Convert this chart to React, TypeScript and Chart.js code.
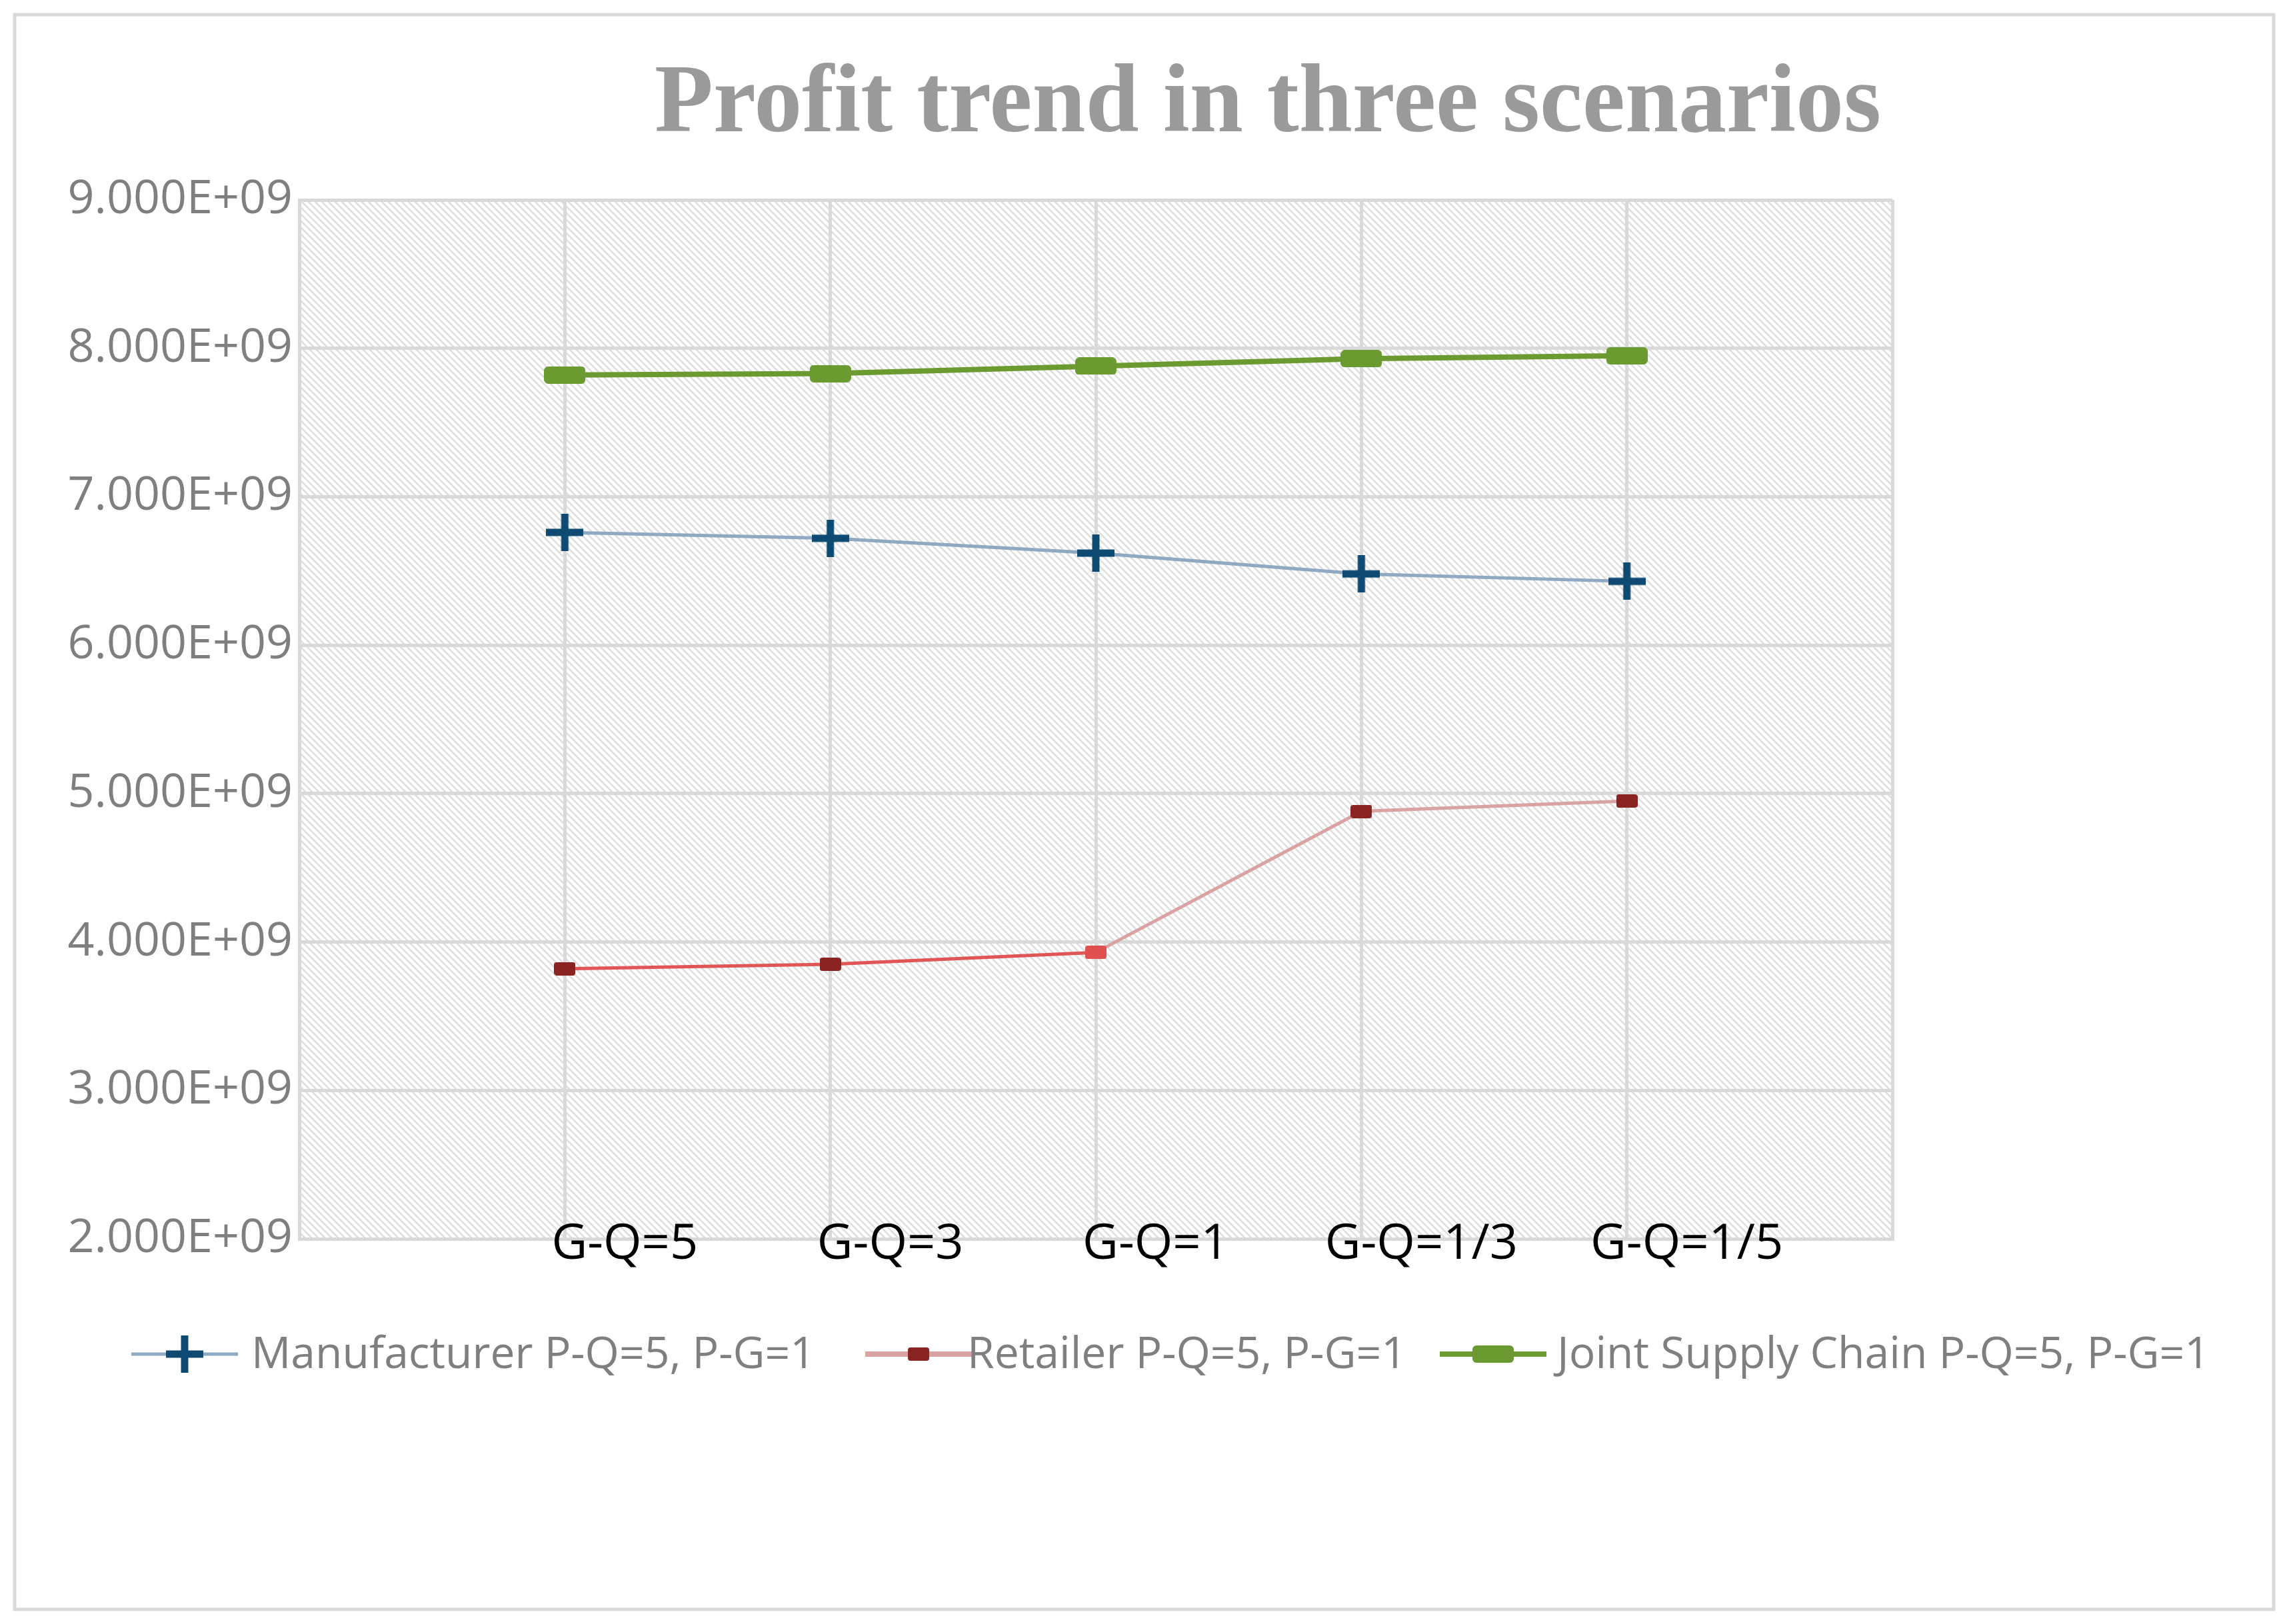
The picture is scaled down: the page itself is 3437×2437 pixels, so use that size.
import React, { useEffect, useRef } from "react";
import { Chart, registerables } from "chart.js";
Chart.register(...registerables);

const categories = ["G-Q=5", "G-Q=3", "G-Q=1", "G-Q=1/3", "G-Q=1/5"];
const manufacturer = [6.76e9, 6.72e9, 6.62e9, 6.48e9, 6.43e9];
const retailer = [3.82e9, 3.85e9, 3.93e9, 4.88e9, 4.95e9];
const joint = [7.82e9, 7.83e9, 7.88e9, 7.93e9, 7.95e9];
const seriesNames = ["Manufacturer P-Q=5, P-G=1", "Retailer P-Q=5, P-G=1", "Joint Supply Chain P-Q=5, P-G=1"];

const W = 3437, H = 2437;
const FONT = "'Open Sans', 'Noto Sans', sans-serif";

function rectImg(w: number, h: number, color: string, r: number) {
  const c = document.createElement("canvas");
  c.width = w; c.height = h;
  const x = c.getContext("2d")!;
  x.fillStyle = color;
  x.beginPath();
  (x as any).roundRect(0, 0, w, h, r);
  x.fill();
  return c;
}
function crossImg(size: number, color: string, lw: number) {
  const c = document.createElement("canvas");
  c.width = size; c.height = size;
  const x = c.getContext("2d")!;
  x.fillStyle = color;
  x.fillRect((size - lw) / 2, 0, lw, size);
  x.fillRect(0, (size - lw) / 2, size, lw);
  return c;
}
function hatch() {
  const c = document.createElement("canvas");
  c.width = 10; c.height = 10;
  const x = c.getContext("2d")!;
  x.fillStyle = "#ffffff";
  x.fillRect(0, 0, 10, 10);
  x.strokeStyle = "#dedede";
  x.lineWidth = 2.5;
  x.beginPath();
  x.moveTo(0, 0); x.lineTo(10, 10);
  x.moveTo(-5, 5); x.lineTo(5, 15);
  x.moveTo(5, -5); x.lineTo(15, 5);
  x.stroke();
  return c;
}
function fmt(v: number) {
  const e = Math.floor(Math.log10(v));
  const m = v / Math.pow(10, e);
  return m.toFixed(3) + "E+" + String(e).padStart(2, "0");
}

export default function App() {
  const ref = useRef<HTMLCanvasElement>(null);
  useEffect(() => {
    const mCross = crossImg(56, "#0E4A72", 11);
    const rRect = rectImg(32, 20, "#8B2323", 4);
    const rRectBright = rectImg(32, 20, "#E05050", 4);
    const jRect = rectImg(62, 26, "#6A9A30", 6);
    const pat = ref.current!.getContext("2d")!.createPattern(hatch(), "repeat")!;
    const legendLine = [
      { color: "#8EA9C1", lw: 5, img: mCross },
      { color: "#D9A3A3", lw: 8, img: rRect },
      { color: "#6A9A30", lw: 8, img: jRect },
    ];
    const legendX = [197, 1298, 2160];
    const legendTextX = [377, 1451, 2336];

    const plugin = {
      id: "deco",
      beforeDraw(chart: any) {
        const ctx = chart.ctx;
        const a = chart.chartArea;
        ctx.save();
        ctx.fillStyle = "#fff";
        ctx.fillRect(0, 0, W, H);
        ctx.strokeStyle = "#d9d9d9";
        ctx.lineWidth = 5;
        ctx.strokeRect(22, 22, 3389, 2393);
        ctx.fillStyle = pat;
        ctx.fillRect(a.left, a.top, a.right - a.left, a.bottom - a.top);
        ctx.restore();
      },
      afterDraw(chart: any) {
        const ctx = chart.ctx;
        ctx.save();
        ctx.fillStyle = "#9a9a9a";
        ctx.font = "bold 146px 'Liberation Serif', 'DejaVu Serif', serif";
        ctx.textAlign = "center";
        ctx.textBaseline = "alphabetic";
        ctx.fillText("Profit trend in three scenarios", 1902, 197, 1840);
        // category labels
        const xs = chart.scales.x;
        ctx.fillStyle = "#000";
        ctx.font = `74px ${FONT}`;
        ctx.textBaseline = "middle";
        categories.forEach((c, i) => {
          ctx.fillText(c, xs.getPixelForValue(i + 1) + 90, 1868);
        });
        ctx.font = `66px ${FONT}`;
        ctx.textAlign = "left";
        const y = 2032;
        seriesNames.forEach((n, i) => {
          const L = legendLine[i];
          ctx.strokeStyle = L.color;
          ctx.lineWidth = L.lw;
          ctx.beginPath();
          ctx.moveTo(legendX[i], y);
          ctx.lineTo(legendX[i] + 160, y);
          ctx.stroke();
          ctx.drawImage(L.img, legendX[i] + 80 - L.img.width / 2, y - L.img.height / 2);
          ctx.fillStyle = "#7f7f7f";
          ctx.fillText(n, legendTextX[i], y + 2);
        });
        ctx.restore();
      },
    };

    const xy = (arr: number[]) => arr.map((v, i) => ({ x: i + 1, y: v }));
    const chart = new Chart(ref.current!, {
      type: "line",
      data: {
        datasets: [
          {
            label: seriesNames[0], data: xy(manufacturer), borderColor: "#8EA9C1", borderWidth: 5,
            pointStyle: mCross as any, pointRadius: 28,
          },
          {
            label: seriesNames[1], data: xy(retailer), borderColor: "#D9A3A3", borderWidth: 5,
            pointStyle: retailer.map((_, i) => (i === 2 ? rRectBright : rRect)) as any, pointRadius: 16,
            segment: { borderColor: (c: any) => (c.p0DataIndex < 2 ? "#E05555" : "#D9A3A3") },
          },
          {
            label: seriesNames[2], data: xy(joint), borderColor: "#6A9A30", borderWidth: 8,
            pointStyle: jRect as any, pointRadius: 31,
          },
        ],
      },
      options: {
        responsive: false,
        animation: false,
        devicePixelRatio: 1,
        layout: { padding: { left: 0, top: 300, right: 3437 - 2839, bottom: 2437 - 1859 } },
        plugins: { legend: { display: false }, tooltip: { enabled: false }, title: { display: false } },
        scales: {
          x: {
            type: "linear", min: 0, max: 6,
            afterFit: (s: any) => { s.height = 0; },
            grid: { color: "#d9d9d9", lineWidth: 5, tickLength: 0, drawTicks: false },
            border: { color: "#d9d9d9", width: 5 },
            ticks: { stepSize: 1, display: false },
          },
          y: {
            min: 2e9, max: 9e9,
            afterFit: (s: any) => { s.width = 449; },
            grid: { color: "#d9d9d9", lineWidth: 5, drawTicks: false },
            border: { color: "#d9d9d9", width: 5 },
            ticks: {
              stepSize: 1e9, padding: 10, color: "#7f7f7f",
              font: { family: FONT, size: 70 },
              callback: (v: any) => fmt(Number(v)),
            },
          },
        },
      },
      plugins: [plugin],
    } as any);
    return () => chart.destroy();
  }, []);
  return (
    <div style={{ position: "absolute", left: 0, top: 0 }}>
      <canvas ref={ref} width={W} height={H} style={{ width: W, height: H, display: "block" }} />
    </div>
  );
}
